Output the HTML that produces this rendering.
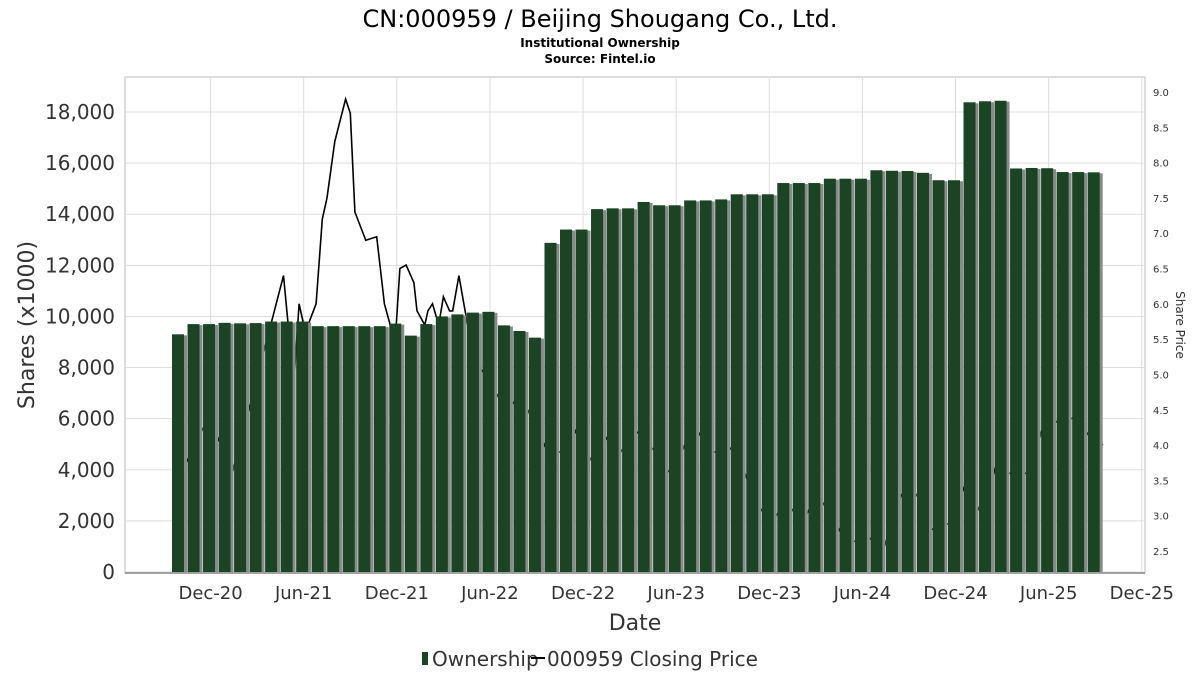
<!DOCTYPE html>
<html><head><meta charset="utf-8"><style>
body{margin:0;background:#fff;font-family:"DejaVu Sans","Liberation Sans",sans-serif;}
</style></head><body>
<svg id="chart" width="1200" height="675" xmlns="http://www.w3.org/2000/svg" style="font-family:'DejaVu Sans','Liberation Sans',sans-serif">
<text x="600" y="27" text-anchor="middle" font-size="24" fill="#000">CN:000959 / Beijing Shougang Co., Ltd.</text>
<text x="600" y="47" text-anchor="middle" font-size="12" font-weight="bold">Institutional Ownership</text>
<text x="600" y="63" text-anchor="middle" font-size="12" font-weight="bold">Source: Fintel.io</text>
<g id="grid"></g>
<g id="price"></g>
<g id="bars"></g>
<g id="axes"></g>
<text transform="translate(34,325) rotate(-90)" text-anchor="middle" font-size="22" fill="#333">Shares (x1000)</text>
<text transform="translate(1176,325) rotate(90)" text-anchor="middle" font-size="12" fill="#333">Share Price</text>
<text x="635" y="630" text-anchor="middle" font-size="22" fill="#333">Date</text>
<g>
<rect x="422" y="652" width="6" height="13" fill="#1a4424"/>
<text x="432" y="666" font-size="20" fill="#333">Ownership</text>
<line x1="531" y1="658" x2="545" y2="658" stroke="#000" stroke-width="2"/>
<text x="547" y="666" font-size="20" fill="#333">000959 Closing Price</text>
</g>
</svg>
<script>
const barValues=[9300,9700,9700,9750,9730,9740,9800,9800,9800,9620,9620,9620,9620,9620,9720,9250,9700,10000,10080,10150,10180,9650,9430,9170,12880,13400,13400,14200,14230,14230,14480,14350,14350,14540,14540,14580,14780,14780,14780,15220,15220,15220,15390,15390,15390,15720,15700,15690,15620,15330,15330,18380,18420,18440,15790,15810,15800,15650,15650,15640];
const priceMonths=[0.4,2,3.5,5.5,6.8,7.1,7.5,7.8,8.2,8.9,9.3,9.6,10.1,10.8,11.1,11.4,12.1,12.8,13.3,13.8,14.0,14.3,14.7,15.2,15.4,15.9,16.1,16.4,16.8,17.1,17.5,17.7,18.1,18.5,19.1,20.1,21.1,22.1,23.2,23.8,25.1,25.6,26.6,27.6,28.2,29.5,30.8,31.4,32.1,33.2,34.3,34.6,35.4,36.2,37.2,38.2,39.2,40.2,41.2,42.1,43.1,44.4,45.5,46.6,47.6,48.5,49.8,50.8,51.8,52.8,53.3,54.9,55.9,56.9,57.8,58.8,59.6];
const priceValues=[3.7,4.4,3.6,5.3,6.4,5.7,5.0,6.0,5.6,6.0,7.2,7.5,8.3,8.9,8.7,7.3,6.9,6.95,6.0,5.6,5.5,6.5,6.55,6.3,5.9,5.7,5.9,6.0,5.7,6.1,5.9,5.9,6.4,5.9,5.2,4.9,4.5,4.7,4.2,3.9,3.9,4.2,3.8,4.1,3.8,4.2,3.9,3.6,3.7,4.3,3.9,3.9,4.0,3.8,3.2,2.9,3.2,2.9,3.3,3.0,2.6,2.7,2.55,3.3,3.3,2.8,2.9,3.5,3.0,3.8,3.6,3.6,4.4,4.3,4.4,4.1,4.0];
const yTicks=[0,2000,4000,6000,8000,10000,12000,14000,16000,18000];
const y2Ticks=[2.5,3.0,3.5,4.0,4.5,5.0,5.5,6.0,6.5,7.0,7.5,8.0,8.5,9.0];
const xTickLabels=["Dec-20","Jun-21","Dec-21","Jun-22","Dec-22","Jun-23","Dec-23","Jun-24","Dec-24","Jun-25","Dec-25"];
const xTickMonths=[2.1,8.1,14.1,20.1,26.1,32.1,38.1,44.1,50.1,56.1,62.1];

const NS="http://www.w3.org/2000/svg";
const L=125,R=1145,T=77,B=573;
const y=v=>572-v*(460/18000);
const y2=p=>92+(9-p)*(459/6.5);
const x=m=>178+m*15.52;
function mk(tag,attrs,parent){const e=document.createElementNS(NS,tag);for(const k in attrs)e.setAttribute(k,attrs[k]);parent.appendChild(e);return e;}
const grid=document.getElementById('grid'),axes=document.getElementById('axes'),bars=document.getElementById('bars'),price=document.getElementById('price');
let r=mk('rect',{x:L,y:T,width:R-L,height:B-T,fill:'none',stroke:'#bbb'},grid);


yTicks.forEach(v=>{
 const l=mk('line',{x1:L,x2:R,y1:y(v),y2:y(v),stroke:'#ddd'},grid);
 
 
 const t=mk('text',{x:L-10,y:y(v)+7,'text-anchor':'end','font-size':20,fill:'#333'},axes);
 t.textContent=v.toLocaleString('en-US');
 
 
});
y2Ticks.forEach(p=>{
 const t=mk('text',{x:R+8,y:y2(p)+4,'font-size':10,fill:'#333'},axes);
 t.textContent=p.toFixed(1);
 
 
});
xTickMonths.forEach((m,i)=>{
 const l=mk('line',{x1:x(m),x2:x(m),y1:T,y2:B,stroke:'#ddd'},grid);
 
 
 const t=mk('text',{x:x(m),y:599,'text-anchor':'middle','font-size':18,fill:'#333'},axes);
 t.textContent=xTickLabels[i];
 
 
});
let ax=mk('line',{x1:L,x2:R,y1:B,y2:B,stroke:'#888','stroke-width':1.5},axes);


let pts=priceMonths.map((m,i)=>x(m).toFixed(1)+','+y2(priceValues[i]).toFixed(1)).join(' ');
let pl=mk('polyline',{points:pts,fill:'none',stroke:'#000','stroke-width':1.6},price);


barValues.forEach((v,i)=>{
 const cx=x(i);
 const s=mk('rect',{x:cx-6+3,y:y(v)+1,width:12,height:572-y(v)-1,fill:'#8a8a8a'},bars);
 
 
 const b=mk('rect',{x:cx-6,y:y(v),width:12,height:572-y(v),fill:'#1a4424'},bars);
 
 
});
</script>
</body></html>
